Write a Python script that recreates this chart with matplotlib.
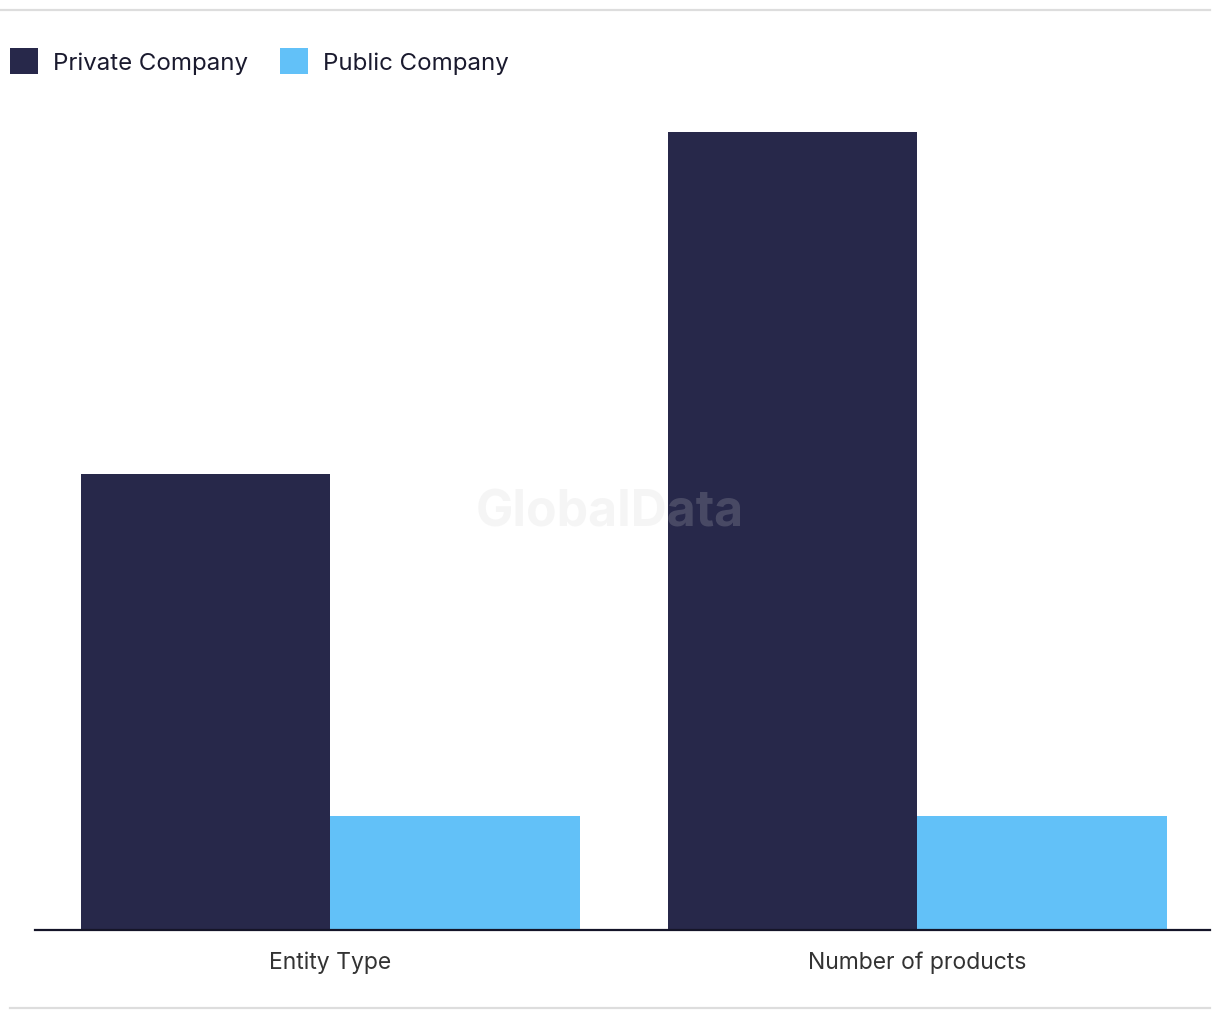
import matplotlib
matplotlib.use("Agg")
import matplotlib.pyplot as plt
from matplotlib.patches import Patch
from matplotlib.lines import Line2D

categories = ["Entity Type", "Number of products"]
series_names = ["Private Company", "Public Company"]
private_values = [4, 7]
public_values = [1, 1]
colors = ["#27284a", "#62c1f8"]

plt.rcParams['font.family'] = ['Inter', 'DejaVu Sans']

fig = plt.figure(figsize=(12.2, 10.2), dpi=100)
ax = fig.add_axes([35/1220, 89/1020, 1175/1220, 829/1020])

x = list(range(len(categories)))
w = 0.425
ax.bar([i - w/2 for i in x], private_values, width=w, color=colors[0], label=series_names[0], zorder=2)
ax.bar([i + w/2 for i in x], public_values, width=w, color=colors[1], label=series_names[1], zorder=2)

ax.set_xlim(-0.5026, 1.499)
ax.set_ylim(0, 7 * 829 / 798)
ax.set_xticks(x)
ax.set_xticklabels(categories, fontsize=16.5, color="#333333")
ax.tick_params(axis='x', length=0, pad=15)
ax.set_yticks([])
for s in ['top', 'right', 'left']:
    ax.spines[s].set_visible(False)
ax.spines['bottom'].set_color('#151528')
ax.spines['bottom'].set_linewidth(1.6)
ax.spines['bottom'].set_zorder(3)

# watermark
ax.text(610/1220, 1 - 513/1020, "GlobalData", transform=fig.transFigure, ha='center', va='center',
        fontsize=36, fontweight='bold', color='#d0d0d0', alpha=0.2, zorder=5)

# grey separator lines
fig.add_artist(Line2D([0, 1210/1220], [1 - 11/1020]*2, color='#dddddd', lw=1.6, transform=fig.transFigure))
fig.add_artist(Line2D([10/1220, 1210/1220], [1 - 1009/1020]*2, color='#dddddd', lw=1.6, transform=fig.transFigure))

handles = [Patch(facecolor=colors[0]), Patch(facecolor=colors[1])]
fig.legend(handles, series_names, loc='center left', bbox_to_anchor=(0/1220, 1 - 62/1020),
           ncol=2, frameon=False, fontsize=17.3, handlelength=1.2, handleheight=1.3,
           handletextpad=0.62, columnspacing=1.3, labelcolor='#1a1a2e', borderaxespad=0)

fig.savefig("out.png", dpi=100, facecolor='white')
